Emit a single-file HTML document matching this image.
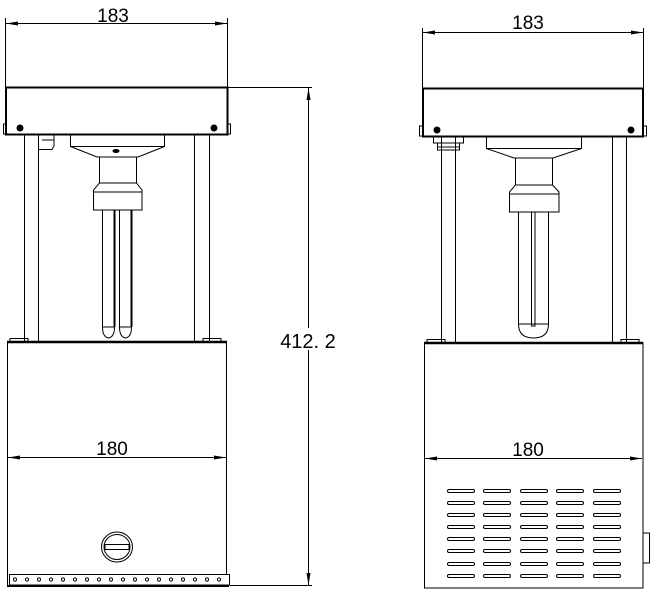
<!DOCTYPE html>
<html><head><meta charset="utf-8"><style>
html,body{margin:0;padding:0;background:#fff;}
svg{display:block;}
text{font-family:"Liberation Sans","DejaVu Sans",sans-serif;fill:#000;}
</style></head><body>
<svg width="656" height="592" viewBox="0 0 656 592" xmlns="http://www.w3.org/2000/svg" fill="none" stroke="#000" stroke-width="1">
<defs>
<marker id="a" viewBox="0 0 12 6" refX="12" refY="3" markerWidth="12" markerHeight="6" orient="auto-start-reverse" markerUnits="userSpaceOnUse"><path d="M0,1 L12,3 L0,5z" fill="#000" stroke="none"/></marker>
</defs>

<!-- LEFT VIEW dims -->
<line x1="5.5" y1="18" x2="5.5" y2="87"/>
<line x1="227.5" y1="18" x2="227.5" y2="87"/>
<line x1="6" y1="23.5" x2="227" y2="23.5" marker-start="url(#a)" marker-end="url(#a)"/>
<text x="113" y="22" font-size="19" text-anchor="middle" stroke="none">183</text>

<line x1="228" y1="87.5" x2="312" y2="87.5"/>
<line x1="230" y1="585.5" x2="312" y2="585.5"/>
<line x1="308.5" y1="88" x2="308.5" y2="585" marker-start="url(#a)" marker-end="url(#a)"/>
<rect x="280" y="328" width="56" height="22" fill="#fff" stroke="none"/>
<text x="308" y="348" font-size="20" text-anchor="middle" stroke="none">412. 2</text>

<!-- left top box -->
<rect x="6" y="87.5" width="221.5" height="47" stroke-width="2"/>
<rect x="3.5" y="124" width="3" height="10"/>
<rect x="227.5" y="124" width="3" height="10"/>
<circle cx="20" cy="128" r="3" fill="#000"/>
<circle cx="214" cy="128" r="3" fill="#000"/>
<!-- posts -->
<line x1="24.5" y1="135" x2="24.5" y2="342"/>
<line x1="38.5" y1="135" x2="38.5" y2="342"/>
<line x1="194.5" y1="135" x2="194.5" y2="342"/>
<line x1="209.5" y1="135" x2="209.5" y2="342"/>
<rect x="10" y="338.5" width="18" height="3.5"/>
<rect x="203" y="338.5" width="18" height="3.5"/>
<!-- connector -->
<path d="M38.5,135 V149.5 H52 L54,146 V135 M42,140 H54"/>
<!-- lamp -->
<path d="M70.5,135 V146.5 L97,157 H138 L164.5,146.5 V135"/>
<line x1="70.5" y1="146.5" x2="164.5" y2="146.5"/>
<path d="M99.5,157 V183 L93.5,190 V210 H142 V190 L136.5,183 V157"/>
<line x1="99.5" y1="183" x2="136.5" y2="183"/>
<line x1="93.5" y1="192" x2="142" y2="192"/>
<ellipse cx="116" cy="151" rx="3" ry="1.5" fill="#000"/>
<path d="M102.5,210 V327 Q102.5,337 108.5,338 Q114.5,337 114.5,327 V210"/>
<path d="M119.5,210 V327 Q119.5,337 125.5,338 Q131.5,337 131.5,327 V210"/>
<line x1="102.5" y1="327" x2="114.5" y2="327"/>
<line x1="119.5" y1="327" x2="131.5" y2="327"/>
<line x1="114.5" y1="210" x2="114.5" y2="327" stroke-width="2"/>
<line x1="131.5" y1="210" x2="131.5" y2="327" stroke-width="2"/>
<!-- left lower box -->
<line x1="7" y1="342" x2="227" y2="342" stroke-width="2.5"/>
<line x1="7.5" y1="342" x2="7.5" y2="586"/>
<line x1="226.5" y1="342" x2="226.5" y2="574"/>
<line x1="8" y1="457.5" x2="226" y2="457.5" marker-start="url(#a)" marker-end="url(#a)"/>
<text x="112" y="455" font-size="19" text-anchor="middle" stroke="none">180</text>
<ellipse cx="117" cy="547" rx="15.5" ry="15"/>
<ellipse cx="117" cy="547" rx="13" ry="12.5"/>
<rect x="105" y="544.5" width="24" height="5"/>
<rect x="9.5" y="574.5" width="220" height="10.5"/>
<line x1="7" y1="586" x2="229" y2="586" stroke-width="2"/>
<g fill="#fff">
<circle cx="15" cy="579.5" r="1.6"/><circle cx="27" cy="579.5" r="1.6"/><circle cx="39" cy="579.5" r="1.6"/><circle cx="51" cy="579.5" r="1.6"/><circle cx="63" cy="579.5" r="1.6"/><circle cx="75" cy="579.5" r="1.6"/><circle cx="87" cy="579.5" r="1.6"/><circle cx="99" cy="579.5" r="1.6"/><circle cx="111" cy="579.5" r="1.6"/><circle cx="123" cy="579.5" r="1.6"/><circle cx="135" cy="579.5" r="1.6"/><circle cx="147" cy="579.5" r="1.6"/><circle cx="159" cy="579.5" r="1.6"/><circle cx="171" cy="579.5" r="1.6"/><circle cx="183" cy="579.5" r="1.6"/><circle cx="195" cy="579.5" r="1.6"/><circle cx="207" cy="579.5" r="1.6"/><circle cx="219" cy="579.5" r="1.6"/>
</g>

<!-- RIGHT VIEW dims -->
<line x1="422.5" y1="28" x2="422.5" y2="88"/>
<line x1="643.5" y1="28" x2="643.5" y2="88"/>
<line x1="423" y1="32.5" x2="643" y2="32.5" marker-start="url(#a)" marker-end="url(#a)"/>
<text x="528" y="29" font-size="19" text-anchor="middle" stroke="none">183</text>

<rect x="423" y="88.5" width="220" height="48" stroke-width="2"/>
<rect x="419.5" y="126" width="3" height="10"/>
<rect x="643.5" y="126" width="3" height="10"/>
<circle cx="437" cy="130" r="3" fill="#000"/>
<circle cx="631" cy="130" r="3" fill="#000"/>
<line x1="441.5" y1="137" x2="441.5" y2="343"/>
<line x1="455.5" y1="137" x2="455.5" y2="343"/>
<line x1="612.5" y1="137" x2="612.5" y2="343"/>
<line x1="626.5" y1="137" x2="626.5" y2="343"/>
<rect x="427" y="339.5" width="18" height="3.5"/>
<rect x="621" y="339.5" width="18" height="3.5"/>
<path d="M433.5,137 V143 H463.5 V137 M437.5,143 V150 H459.5 V143 M437.5,147 H459.5"/>
<path d="M486.5,137 V148.5 L514,158 H553 L581.5,148.5 V137"/>
<line x1="486.5" y1="148.5" x2="581.5" y2="148.5"/>
<path d="M515.5,158 V185 L509.5,192 V212 H559 V192 L552.5,185 V158"/>
<line x1="515.5" y1="185" x2="552.5" y2="185"/>
<line x1="509.5" y1="194" x2="559" y2="194"/>
<path d="M518.5,212 V324 Q518.5,338 533.5,338 Q548.5,338 548.5,324 V212"/>
<line x1="518.5" y1="324" x2="548.5" y2="324"/>
<rect x="531.5" y="212" width="3.5" height="114"/>
<line x1="424" y1="343" x2="643" y2="343" stroke-width="2.5"/>
<rect x="424.5" y="343" width="218.5" height="245"/>
<rect x="643" y="533" width="6.5" height="30"/>
<g>
<rect x="447.5" y="489.5" width="27" height="3" rx="1.5"/><rect x="483.5" y="489.5" width="27" height="3" rx="1.5"/><rect x="520.5" y="489.5" width="27" height="3" rx="1.5"/><rect x="556.5" y="489.5" width="27" height="3" rx="1.5"/><rect x="593.5" y="489.5" width="27" height="3" rx="1.5"/>
<rect x="447.5" y="501.5" width="27" height="3" rx="1.5"/><rect x="483.5" y="501.5" width="27" height="3" rx="1.5"/><rect x="520.5" y="501.5" width="27" height="3" rx="1.5"/><rect x="556.5" y="501.5" width="27" height="3" rx="1.5"/><rect x="593.5" y="501.5" width="27" height="3" rx="1.5"/>
<rect x="447.5" y="513.5" width="27" height="3" rx="1.5"/><rect x="483.5" y="513.5" width="27" height="3" rx="1.5"/><rect x="520.5" y="513.5" width="27" height="3" rx="1.5"/><rect x="556.5" y="513.5" width="27" height="3" rx="1.5"/><rect x="593.5" y="513.5" width="27" height="3" rx="1.5"/>
<rect x="447.5" y="525.5" width="27" height="3" rx="1.5"/><rect x="483.5" y="525.5" width="27" height="3" rx="1.5"/><rect x="520.5" y="525.5" width="27" height="3" rx="1.5"/><rect x="556.5" y="525.5" width="27" height="3" rx="1.5"/><rect x="593.5" y="525.5" width="27" height="3" rx="1.5"/>
<rect x="447.5" y="537.5" width="27" height="3" rx="1.5"/><rect x="483.5" y="537.5" width="27" height="3" rx="1.5"/><rect x="520.5" y="537.5" width="27" height="3" rx="1.5"/><rect x="556.5" y="537.5" width="27" height="3" rx="1.5"/><rect x="593.5" y="537.5" width="27" height="3" rx="1.5"/>
<rect x="447.5" y="549.5" width="27" height="3" rx="1.5"/><rect x="483.5" y="549.5" width="27" height="3" rx="1.5"/><rect x="520.5" y="549.5" width="27" height="3" rx="1.5"/><rect x="556.5" y="549.5" width="27" height="3" rx="1.5"/><rect x="593.5" y="549.5" width="27" height="3" rx="1.5"/>
<rect x="447.5" y="562.5" width="27" height="3" rx="1.5"/><rect x="483.5" y="562.5" width="27" height="3" rx="1.5"/><rect x="520.5" y="562.5" width="27" height="3" rx="1.5"/><rect x="556.5" y="562.5" width="27" height="3" rx="1.5"/><rect x="593.5" y="562.5" width="27" height="3" rx="1.5"/>
<rect x="447.5" y="574.5" width="27" height="3" rx="1.5"/><rect x="483.5" y="574.5" width="27" height="3" rx="1.5"/><rect x="520.5" y="574.5" width="27" height="3" rx="1.5"/><rect x="556.5" y="574.5" width="27" height="3" rx="1.5"/><rect x="593.5" y="574.5" width="27" height="3" rx="1.5"/>
</g>
<line x1="425" y1="458.5" x2="642" y2="458.5" marker-start="url(#a)" marker-end="url(#a)"/>
<text x="528" y="456" font-size="19" text-anchor="middle" stroke="none">180</text>
</svg>
</body></html>
